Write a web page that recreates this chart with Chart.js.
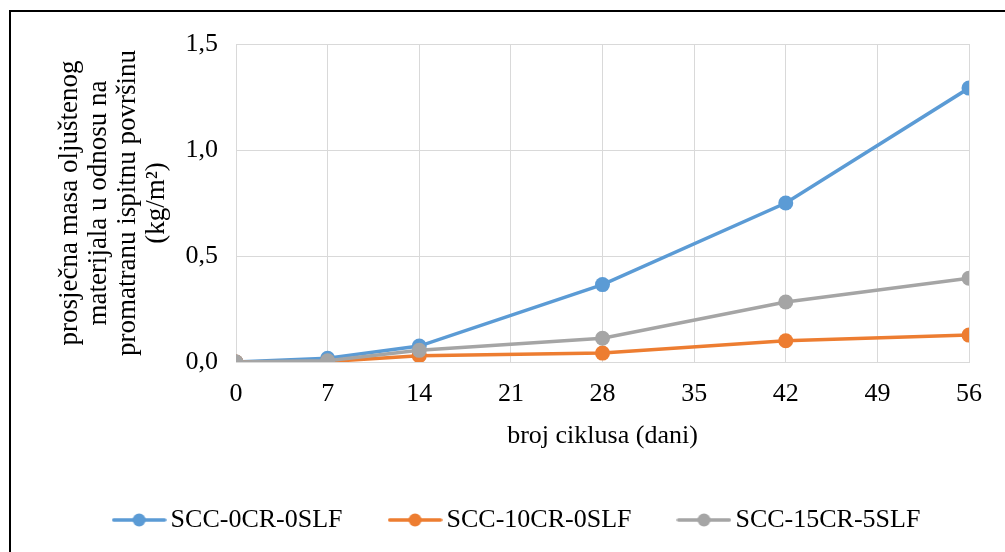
<!DOCTYPE html>
<html>
<head>
<meta charset="utf-8">
<script src="https://cdn.jsdelivr.net/npm/chart.js@4.4.0/dist/chart.umd.min.js"></script>
<style>
    html, body { margin: 0; padding: 0; background: #fff; }
    #wrap { position: relative; width: 1005px; height: 552px; overflow: hidden; }
    .edge { position: absolute; background: #000; pointer-events: none; }
    #edgeTop { left: 9px; top: 10px; width: 996px; height: 2px; }
    #edgeLeft { left: 9px; top: 10px; width: 2px; height: 542px; }
</style>
</head>
<body>
<div id="wrap">
    <canvas id="chart" width="1005" height="552"></canvas>
    <div class="edge" id="edgeTop"></div>
    <div class="edge" id="edgeLeft"></div>
</div>
<script>
// broj ciklusa (dani)
const cycles = [0, 7, 14, 28, 42, 56];

// prosjecna masa oljustenog materijala (kg/m2)
const scc0cr0slf = [0, 0.018, 0.075, 0.365, 0.75, 1.292];
const scc10cr0slf = [0, 0.002, 0.03, 0.042, 0.10, 0.127];
const scc15cr5slf = [0, 0.006, 0.055, 0.112, 0.283, 0.395];

const seriesNames = ["SCC-0CR-0SLF", "SCC-10CR-0SLF", "SCC-15CR-5SLF"];
const seriesColors = ["#5B9BD5", "#ED7D31", "#A5A5A5"];

const yTitle = ["prosječna masa oljuštenog", "materijala u odnosu na", "promatranu ispitnu površinu", "(kg/m²)"];
const xTitle = "broj ciklusa (dani)";

const serif = "'Liberation Serif', 'Times New Roman', serif";

function toPoints(values) {
    return cycles.map((c, i) => ({ x: c, y: values[i] }));
}

// line + dot marker like the excel legend
function legendMarker(color) {
    const c = document.createElement("canvas");
    c.width = 55;
    c.height = 16;
    const ctx = c.getContext("2d");
    ctx.strokeStyle = color;
    ctx.lineWidth = 3.5;
    ctx.lineCap = "round";
    ctx.beginPath();
    ctx.moveTo(2, 8);
    ctx.lineTo(53, 8);
    ctx.stroke();
    ctx.fillStyle = color;
    ctx.beginPath();
    ctx.arc(27.5, 8, 6.5, 0, Math.PI * 2);
    ctx.fill();
    return c;
}

// nudge the legend row to the right, it is not centred on the page in the original
const legendShift = {
    id: "legendShift",
    afterLayout(chart) {
        chart.legend.left += 36;
        chart.legend.right += 36;
    }
};

const allValues = [scc0cr0slf, scc10cr0slf, scc15cr5slf];

const datasets = allValues.map((vals, i) => ({
    label: seriesNames[i],
    data: toPoints(vals),
    borderColor: seriesColors[i],
    backgroundColor: seriesColors[i],
    borderWidth: 3.5,
    pointRadius: 7.5,
    pointHoverRadius: 7.5,
    pointBackgroundColor: seriesColors[i],
    pointBorderColor: seriesColors[i],
    pointBorderWidth: 0,
    pointStyle: "circle",
    order: 2 - i, // later series on top, like excel
    tension: 0
}));

const chart = new Chart(document.getElementById("chart"), {
    type: "line",
    data: { datasets: datasets },
    plugins: [legendShift],
    options: {
        responsive: false,
        animation: false,
        layout: {
            padding: { left: 0, right: 36, top: 44, bottom: 9 }
        },
        plugins: {
            tooltip: { enabled: false },
            legend: {
                position: "bottom",
                labels: {
                    usePointStyle: true,
                    pointStyleWidth: 37,
                    padding: 54,
                    color: "#000",
                    font: { family: serif, size: 26 },
                    sort: (a, b) => a.datasetIndex - b.datasetIndex,
                    generateLabels: (chart) => {
                        const items = Chart.defaults.plugins.legend.labels.generateLabels(chart);
                        items.forEach(it => {
                            it.pointStyle = legendMarker(seriesColors[it.datasetIndex]);
                        });
                        return items;
                    }
                }
            }
        },
        scales: {
            x: {
                type: "linear",
                min: 0,
                max: 56,
                grid: { color: "#D9D9D9", lineWidth: 1, drawTicks: false },
                border: { color: "#D9D9D9" },
                ticks: {
                    stepSize: 7,
                    padding: 17,
                    color: "#000",
                    font: { family: serif, size: 26 }
                },
                title: {
                    display: true,
                    text: xTitle,
                    color: "#000",
                    font: { family: serif, size: 26 },
                    padding: { top: 0, bottom: 1.5 }
                },
                afterFit: (axis) => { axis.height = 91; }
            },
            y: {
                min: 0,
                max: 1.5,
                grid: { color: "#D9D9D9", lineWidth: 1, drawTicks: false },
                border: { color: "#D9D9D9" },
                ticks: {
                    stepSize: 0.5,
                    padding: 18,
                    color: "#000",
                    font: { family: serif, size: 26 },
                    callback: (v) => v.toFixed(1).replace(".", ",")
                },
                title: {
                    display: true,
                    text: yTitle,
                    color: "#000",
                    font: { family: serif, size: 27, lineHeight: "29px" },
                    padding: { top: 55.5, bottom: 0 }
                },
                afterFit: (axis) => { axis.width = 236; }
            }
        }
    }
});
</script>
</body>
</html>
